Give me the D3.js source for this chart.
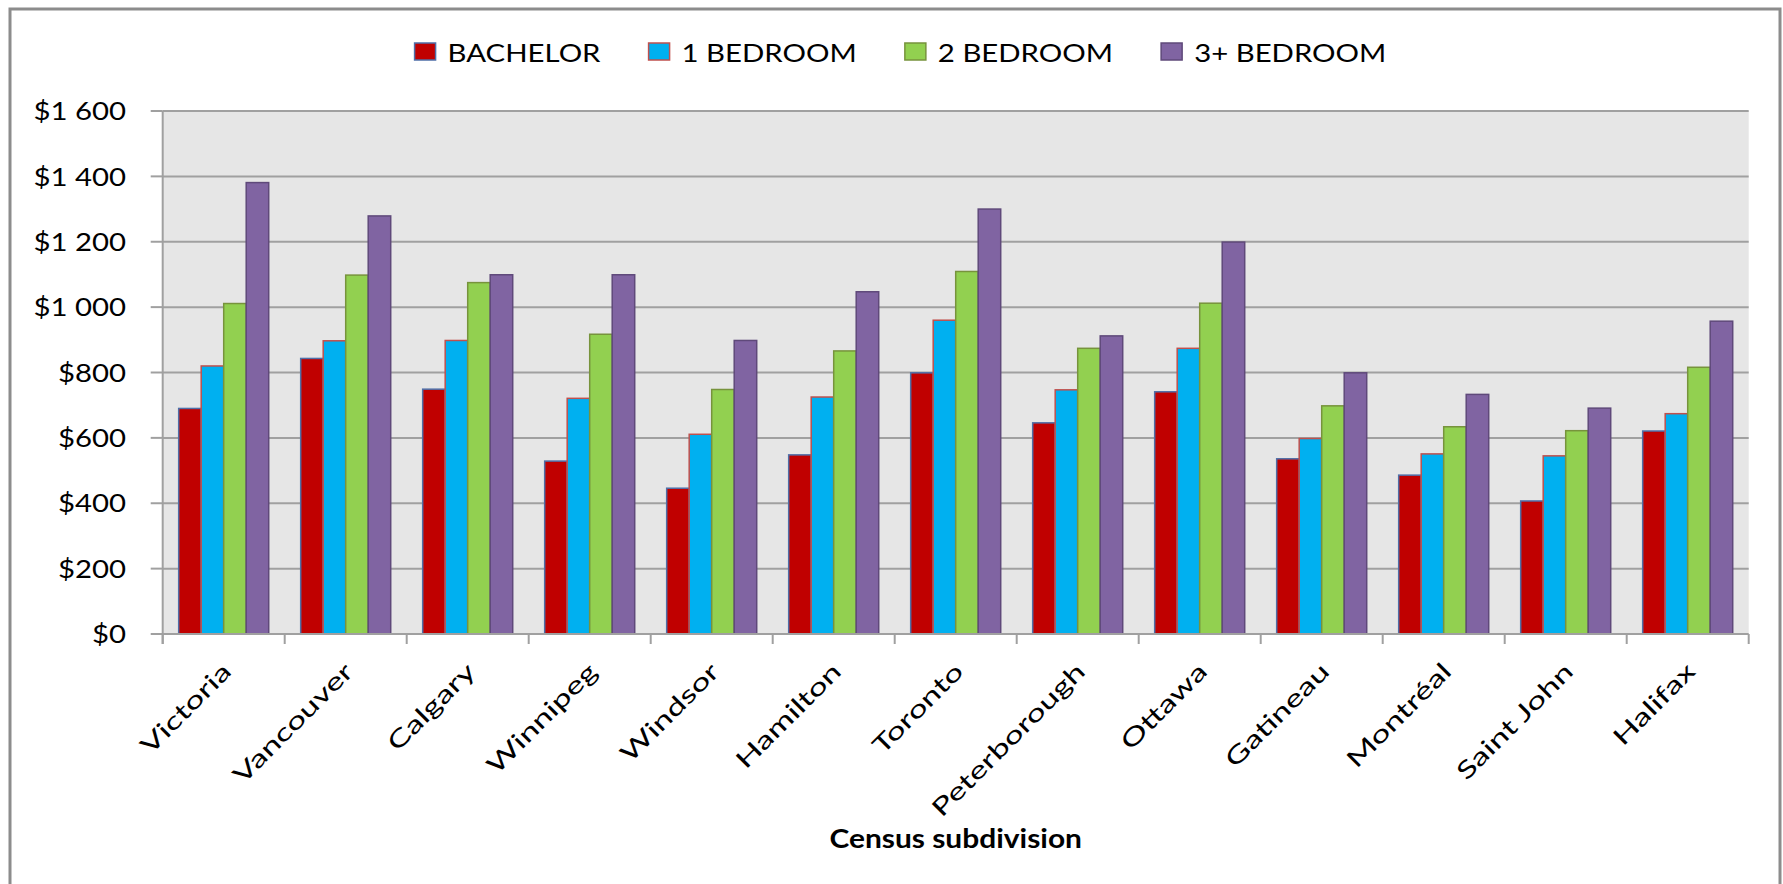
<!DOCTYPE html>
<html>
<head>
<meta charset="utf-8">
<script src="https://cdn.jsdelivr.net/npm/d3@7/dist/d3.min.js"></script>
<style>
  html, body { margin: 0; padding: 0; background: #ffffff; }
  svg { display: block; }
  text { font-family: Lato, "Open Sans", sans-serif; fill: #000; }
</style>
</head>
<body>
<svg id="chart" width="1783" height="884"></svg>
<script>
const categories = ["Victoria","Vancouver","Calgary","Winnipeg","Windsor","Hamilton","Toronto","Peterborough","Ottawa","Gatineau","Montréal","Saint John","Halifax"];
const seriesNames = ["BACHELOR","1 BEDROOM","2 BEDROOM","3+ BEDROOM"];
const bachelor  = [690, 843, 749, 529, 446, 548, 799, 646, 741, 536, 486, 407, 621];
const oneBed    = [820, 897, 898, 721, 611, 725, 960, 747, 874, 598, 551, 545, 674];
const twoBed    = [1011,1098,1075, 917, 748, 866,1109, 874,1012, 698, 634, 622, 816];
const threeBed  = [1381,1279,1099,1099, 898,1047,1300, 912,1199, 799, 733, 691, 957];
const yTicks = [0, 200, 400, 600, 800, 1000, 1200, 1400, 1600];
const yTickLabels = ["$0","$200","$400","$600","$800","$1 000","$1 200","$1 400","$1 600"];
const xTitle = "Census subdivision";

const seriesValues = [bachelor, oneBed, twoBed, threeBed];
const fills   = ["#C00000", "#00B0F0", "#92D050", "#8064A2"];
const strokes = ["#4F6FA8", "#C0504D", "#77933C", "#5F497A"];

const svg = d3.select("#chart");
const plot = { left: 162.7, right: 1748.7, top: 111, bottom: 634 };
const fontSize = 25.5;

// outer frame
svg.append("rect").attr("x", 10).attr("y", 9).attr("width", 1770).attr("height", 900)
  .attr("fill", "#fff").attr("stroke", "#8C8C8C").attr("stroke-width", 3);

// calibrate horizontal stretch of text (reference text looks horizontally widened)
const probe = svg.append("text").attr("font-size", fontSize).text(seriesNames[0]);
const probeLen = probe.node().getComputedTextLength();
probe.remove();
const sx = 153 / probeLen;

const x0 = d3.scaleBand().domain(categories).range([plot.left, plot.right]).paddingInner(0).paddingOuter(0);
const x1 = d3.scaleBand().domain(seriesNames).range([0, x0.bandwidth()]).paddingInner(0).paddingOuter(0.71);
const y = d3.scaleLinear().domain([0, 1600]).range([plot.bottom, plot.top]);

// plot background
svg.append("rect").attr("x", plot.left).attr("y", plot.top)
  .attr("width", plot.right - plot.left).attr("height", plot.bottom - plot.top)
  .attr("fill", "#E6E6E6");

// gridlines
svg.append("g").selectAll("line").data(yTicks.filter(t => t > 0)).join("line")
  .attr("x1", plot.left).attr("x2", plot.right)
  .attr("y1", d => y(d)).attr("y2", d => y(d))
  .attr("stroke", "#A0A0A0").attr("stroke-width", 2);

// y axis line and ticks
svg.append("line").attr("x1", plot.left).attr("x2", plot.left)
  .attr("y1", plot.top).attr("y2", plot.bottom + 10)
  .attr("stroke", "#A0A0A0").attr("stroke-width", 2);
svg.append("g").selectAll("line").data(yTicks).join("line")
  .attr("x1", plot.left - 12).attr("x2", plot.left)
  .attr("y1", d => y(d)).attr("y2", d => y(d))
  .attr("stroke", "#A0A0A0").attr("stroke-width", 2);

// y labels
svg.append("g").selectAll("g").data(yTicks).join("g")
  .attr("transform", d => `translate(126,${y(d)}) scale(${sx},1)`)
  .append("text")
  .attr("text-anchor", "end").attr("dy", "0.36em").attr("font-size", fontSize)
  .text((d, i) => yTickLabels[i]);

// bars
const groups = svg.append("g").selectAll("g").data(categories).join("g")
  .attr("transform", d => `translate(${x0(d)},0)`);
groups.selectAll("rect")
  .data((c, ci) => seriesNames.map((s, si) => ({ s, si, v: seriesValues[si][ci] })))
  .join("rect")
  .attr("x", d => x1(d.s))
  .attr("width", x1.bandwidth())
  .attr("y", d => y(d.v))
  .attr("height", d => y(0) - y(d.v))
  .attr("fill", d => fills[d.si])
  .attr("stroke", d => strokes[d.si])
  .attr("stroke-width", 1.5);

// x axis line and ticks
svg.append("line").attr("x1", plot.left).attr("x2", plot.right)
  .attr("y1", plot.bottom).attr("y2", plot.bottom)
  .attr("stroke", "#A0A0A0").attr("stroke-width", 2);
const boundaries = categories.map(c => x0(c)).concat([plot.right]);
svg.append("g").selectAll("line").data(boundaries).join("line")
  .attr("x1", d => d).attr("x2", d => d)
  .attr("y1", plot.bottom).attr("y2", plot.bottom + 10)
  .attr("stroke", "#A0A0A0").attr("stroke-width", 2);

// x labels (rotated 45°, stretched along baseline)
const xFont = 24, kx = 1.42;
svg.append("g").selectAll("g").data(categories).join("g")
  .attr("transform", d => `translate(${x0(d) + x0.bandwidth() / 2 + 3},667) rotate(-45) scale(${kx},1)`)
  .append("text")
  .attr("text-anchor", "end").attr("dy", "0.36em").attr("font-size", xFont)
  .text(d => d);

// x title
svg.append("g").attr("transform", `translate(${(plot.left + plot.right) / 2},848) scale(${sx},1)`)
  .append("text").attr("text-anchor", "middle").attr("font-size", 26)
  .attr("font-weight", "bold").text(xTitle);

// legend
const legend = svg.append("g");
const sw = 21, sh = 17, gapText = 12, gapItem = 48;
let items = seriesNames.map((s, i) => {
  const t = svg.append("text").attr("font-size", fontSize).text(s);
  const w = t.node().getComputedTextLength() * sx;
  t.remove();
  return { s, i, w };
});
const total = d3.sum(items, d => sw + gapText + d.w) + gapItem * (items.length - 1);
let cx = 900.5 - total / 2;
items.forEach(d => { d.x = cx; cx += sw + gapText + d.w + gapItem; });
const li = legend.selectAll("g").data(items).join("g")
  .attr("transform", d => `translate(${d.x},0)`);
li.append("rect").attr("x", 0).attr("y", 43).attr("width", sw).attr("height", sh)
  .attr("fill", d => fills[d.i]).attr("stroke", d => strokes[d.i]).attr("stroke-width", 1.5);
li.append("g").attr("transform", `translate(${sw + gapText},61.5) scale(${sx},1)`)
  .append("text").attr("font-size", fontSize).text(d => d.s);
</script>
</body>
</html>
